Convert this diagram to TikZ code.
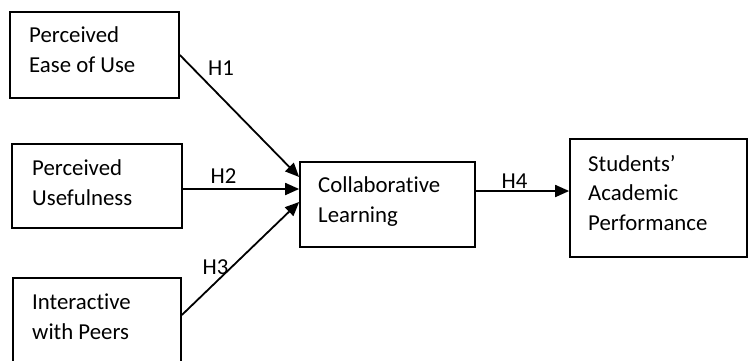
\documentclass[tikz,border=0pt]{standalone}
\usepackage{fontspec}
\setmainfont{Carlito}[Ligatures={NoCommon,NoRare}]
\usetikzlibrary{arrows.meta}
\begin{document}
\begin{tikzpicture}[x=1pt,y=-1pt,
  box/.style={draw=black,line width=1.7pt,rectangle,inner sep=0pt},
  txt/.style={anchor=base west,align=left,inner sep=0pt,font=\fontsize{22.8}{29.3}\selectfont},
  hlab/.style={inner sep=0pt,font=\fontsize{22.8}{28}\selectfont},
  conn/.style={line width=1.8pt,-{Triangle[length=14pt,width=12pt]}}]
\clip (0,0) rectangle (748,360);
\fill[white] (0,0) rectangle (748,360);
% boxes
\node[box,minimum width=169pt,minimum height=86pt] (b1) at (94.5,55) {};
\node[box,minimum width=170pt,minimum height=84pt] (b2) at (97,186) {};
\node[box,minimum width=168pt,minimum height=94pt] (b3) at (97,325) {};
\node[box,minimum width=175pt,minimum height=85pt] (cl) at (387.5,204.5) {};
\node[box,minimum width=177pt,minimum height=118pt] (st) at (658.5,198) {};
% texts (anchored at last line baseline)
\node[txt] (t1) at (29,72) {Perceived\\Ease of Use};
\node[txt] (t2) at (32,205) {Perceived\\Usefulness};
\node[txt] (t3) at (32,339) {Interactive\\with Peers};
\node[txt] (t4) at (318,222) {Collaborative\\Learning};
\node[txt] (t5) at (588,230) {Students’\\Academic\\Performance};
% connectors
\draw[conn] (b1.east) -- ([yshift=27.5pt]cl.west);
\draw[conn] ([yshift=-3pt]b2.east) -- ([yshift=15.5pt]cl.west);
\draw[conn] ([yshift=10pt]b3.east) -- ([yshift=2.5pt]cl.west);
\draw[conn] ([yshift=13.5pt]cl.east) -- ([yshift=7pt]st.west);
% labels
\node[hlab] (h1) at (221,68.5) {H1};
\node[hlab] (h2) at (223.5,176) {H2};
\node[hlab] (h3) at (215.5,267.5) {H3};
\node[hlab] (h4) at (514.5,181) {H4};
\end{tikzpicture}
\end{document}
